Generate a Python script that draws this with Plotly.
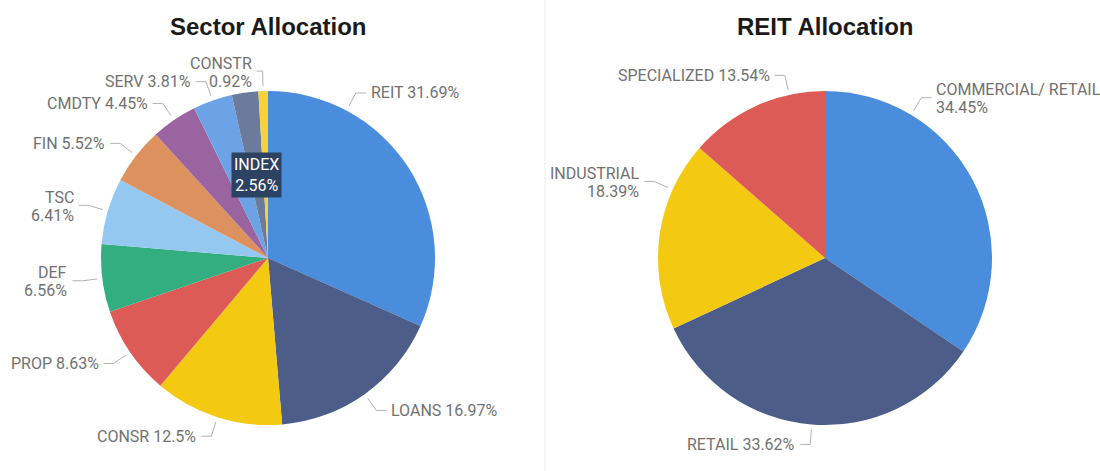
import math
import plotly.graph_objects as go

# ---- data ----
sector_labels = ["REIT", "LOANS", "CONSR", "PROP", "DEF", "TSC",
                 "FIN", "CMDTY", "SERV", "INDEX", "CONSTR"]
sector_values = [31.69, 16.97, 12.5, 8.63, 6.56, 6.41, 5.52, 4.45, 3.81, 2.56, 0.92]
sector_colors = ["#4A8DDC", "#4C5D8A", "#F3C911", "#DC5B57", "#33AE81", "#95C8F0",
                 "#DD915F", "#9A64A0", "#6CA3E6", "#6C7A9C", "#F6D13A"]

reit_labels = ["COMMERCIAL/ RETAIL", "RETAIL", "INDUSTRIAL", "SPECIALIZED"]
reit_values = [34.45, 33.62, 18.39, 13.54]
reit_colors = ["#4A8DDC", "#4C5D8A", "#F3C911", "#DC5B57"]

# ---- layout (pixels) ----
W, H = 1100, 471
R = 167          # pie radius
CY = 258         # pie centre, from top
LABEL_FONT = dict(family="Roboto", size=16, color="#717171")
LINE_COLOR = "#B3B3B3"
LINE_GAP = 18    # spacing of the two lines of a wrapped label

# Power BI nudges a few leader lines away from the slice mid-angle
angle_shift = {"REIT": -29, "COMMERCIAL/ RETAIL": -31, "INDUSTRIAL": 16, "SPECIALIZED": 12}
wrapped = {"DEF", "TSC", "CONSTR", "COMMERCIAL/ RETAIL", "INDUSTRIAL"}
inside = {"INDEX"}
elbow_len = {"CONSTR": 6}


def px(x):
    return x / W


def py(y):
    return 1 - y / H


def add_pie(fig, labels, values, colors, cx, title):
    fig.add_trace(go.Pie(
        labels=labels, values=values, sort=False, direction="clockwise",
        rotation=0, textinfo="none", hoverinfo="label+percent",
        marker=dict(colors=colors, line=dict(width=0)),
        domain=dict(x=[px(cx - R), px(cx + R)], y=[py(CY + R), py(CY - R)]),
        showlegend=False,
    ))
    fig.add_annotation(x=px(cx), y=py(27), xref="paper", yref="paper",
                       text=title, showarrow=False, xanchor="center", yanchor="middle",
                       font=dict(family="Liberation Sans", size=24,
                                 color="#1A1A1A", weight="bold"))

    total = sum(values)
    cum = 0
    for lab, v in zip(labels, values):
        mid = (cum + v / 2) / total * 360
        cum += v
        pct = f"{v:g}%"

        if lab in inside:
            a = math.radians(mid)
            tx, ty = cx + 0.5 * R * math.sin(a), CY - 0.5 * R * math.cos(a)
            fig.add_annotation(x=px(tx), y=py(ty), xref="paper", yref="paper",
                               text=f"{lab}<br>{pct}", showarrow=False,
                               bgcolor="#2C4263", borderpad=2, align="center",
                               xanchor="center", yanchor="middle",
                               font=dict(family="Roboto", size=16, color="white"))
            continue

        a = math.radians(mid + angle_shift.get(lab, 0))
        sx, sy = cx + (R + 5) * math.sin(a), CY - (R + 5) * math.cos(a)
        ex, ey = cx + (R + 20) * math.sin(a), CY - (R + 20) * math.cos(a)
        right = math.sin(a) >= 0
        h = elbow_len.get(lab, 10)
        hx = ex + h if right else ex - h
        fig.add_shape(type="path", xref="paper", yref="paper",
                      path=f"M {px(sx)},{py(sy)} L {px(ex)},{py(ey)} L {px(hx)},{py(ey)}",
                      line=dict(color=LINE_COLOR, width=1))

        if lab in wrapped:
            lines = [(lab, ey + 1 - LINE_GAP / 2), (pct, ey + 1 + LINE_GAP / 2)]
        else:
            lines = [(f"{lab} {pct}", ey)]
        for txt, ly in lines:
            fig.add_annotation(x=px(hx + 3 if right else hx - 3), y=py(ly),
                               xref="paper", yref="paper", text=txt, showarrow=False,
                               xanchor="left" if right else "right", yanchor="middle",
                               font=LABEL_FONT)


fig = go.Figure()
add_pie(fig, sector_labels, sector_values, sector_colors, 268, "Sector Allocation")
add_pie(fig, reit_labels, reit_values, reit_colors, 825, "REIT Allocation")

# thin divider between the two visuals
fig.add_shape(type="line", xref="paper", yref="paper", x0=px(545), x1=px(545),
              y0=0, y1=1, line=dict(color="#ECECEC", width=1))

fig.update_layout(width=W, height=H, margin=dict(l=0, r=0, t=0, b=0),
                  paper_bgcolor="white", plot_bgcolor="white")

# drop the browser's default body margin so the figure sits at the page corner
fig.write_html("out.html", config={"displayModeBar": False},
               post_script="document.body.style.margin = '0';")
